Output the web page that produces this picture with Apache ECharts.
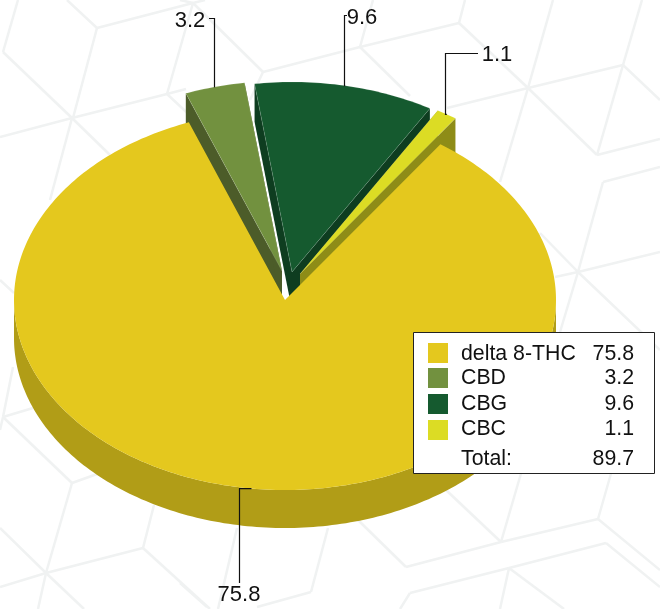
<!DOCTYPE html>
<html>
<head>
<meta charset="utf-8">
<style>
  html, body { margin: 0; padding: 0; background: #fff; }
  #main { width: 660px; height: 609px; }
</style>
</head>
<body>
<div id="main"></div>
<script src="https://cdn.jsdelivr.net/npm/echarts@6/dist/echarts.min.js"></script>
<script>
const categories = ['delta 8-THC', 'CBD', 'CBG', 'CBC'];
const values = [75.8, 3.2, 9.6, 1.1];
const valueLabels = ['75.8', '3.2', '9.6', '1.1'];
const totalText = 'Total:';
const totalLabel = '89.7';

// pie look
const topColors = ['#e4c81e', '#72913f', '#155a2f', '#dcdc24'];
const wallColors = ['#b19d17', '#4c5c29', '#0e3d20', '#8e8c17'];
const pieCenter = [285, 300];
const pieRx = 271;
const pieRy = 190;
const pieDepth = 38;
const firstAngle = 35; // degrees clockwise from 12 o'clock
const explode = [[0, 0], [-3, -29], [7, -28], [15, -26]];
// where the leader bends and where its label sits
const leaders = [
  { bend: [239.5, null], end: [239.5, 583], label: [239, 595] },
  { bend: [214.5, 18.5], end: [209, 18.5], label: [190, 21] },
  { bend: [344.5, 15.5], end: [347, 15.5], label: [362, 18] },
  { bend: [445.5, 53.5], end: [478, 53.5], label: [497, 55] }
];

const font = '"Liberation Sans", Arial, sans-serif';
const total = values.reduce((a, b) => a + b, 0);

const slices = [];
let acc = firstAngle;
values.forEach(function (v) {
  const span = v / total * 360;
  slices.push([acc, acc + span]);
  acc += span;
});

function rimPoint(cx, cy, deg, down) {
  const r = deg * Math.PI / 180;
  return [cx + pieRx * Math.sin(r), cy - pieRy * Math.cos(r) + (down || 0)];
}

function renderSlice(params, api) {
  const i = params.dataIndex;
  const a0 = slices[i][0];
  const a1 = slices[i][1];
  const cx = pieCenter[0] + explode[i][0];
  const cy = pieCenter[1] + explode[i][1];
  const z = i === 0 ? 10 : 2 + i;
  const children = [];

  // flat top face
  const face = [[cx, cy]];
  for (let a = a0; a < a1; a += 1) face.push(rimPoint(cx, cy, a));
  face.push(rimPoint(cx, cy, a1));

  // side walls of the pulled out slices
  if (i > 0) {
    [a0, a1].forEach(function (a) {
      const p = rimPoint(cx, cy, a);
      children.push({
        type: 'polygon',
        z2: z,
        shape: { points: [[cx, cy], p, [p[0], p[1] + pieDepth], [cx, cy + pieDepth]] },
        style: { fill: wallColors[i] }
      });
    });
  }

  // outer rim, only the part facing the viewer
  const from = Math.max(a0, 90);
  const to = Math.min(a1, 270);
  if (to > from) {
    const rim = [];
    for (let a = from; a <= to; a += 1) rim.push(rimPoint(cx, cy, a));
    for (let a = to; a >= from; a -= 1) rim.push(rimPoint(cx, cy, a, pieDepth));
    children.push({ type: 'polygon', z2: z, shape: { points: rim }, style: { fill: wallColors[i] } });
  }

  children.push({
    type: 'polygon',
    z2: z + 1,
    shape: { points: face },
    style: { fill: topColors[i], stroke: i === 0 ? null : 'rgba(255,255,255,0.25)', lineWidth: 0.5 }
  });

  // leader line and value
  const mid = rimPoint(cx, cy, (a0 + a1) / 2);
  const l = leaders[i];
  const bend = [l.bend[0], l.bend[1] === null ? mid[1] : l.bend[1]];
  children.push({
    type: 'polyline',
    z2: 20,
    shape: { points: [mid, i === 0 ? bend : [bend[0], mid[1]], bend, l.end] },
    style: { fill: null, stroke: '#111', lineWidth: 1.2 }
  });
  children.push({
    type: 'text',
    z2: 20,
    x: l.label[0],
    y: l.label[1],
    style: {
      text: String(api.value(1)),
      font: '22px ' + font,
      fill: '#111',
      textAlign: 'center',
      textVerticalAlign: 'middle'
    }
  });
  return { type: 'group', children: children };
}

// faint cube pattern behind the chart
const bgLines = [
  [67, 0, 97, 28], [97, 28, 73, 118], [97, 28, 193, 3], [18, 0, 3, 52], [3, 52, 72, 118],
  [0, 137, 72, 118], [72, 118, 167, 94], [167, 94, 193, 3], [72, 118, 110, 155], [72, 118, 50, 200],
  [167, 94, 186, 89], [167, 94, 197, 122], [193, 3, 263, 72], [193, 3, 180, 0], [193, 3, 205, 0],
  [263, 72, 360, 47], [263, 72, 250, 100], [360, 47, 373, 0], [360, 47, 410, 96], [360, 47, 459, 23],
  [459, 23, 465, 0], [459, 23, 528, 88], [528, 88, 553, 0], [528, 88, 447, 108], [528, 88, 597, 155],
  [528, 88, 500, 182], [597, 155, 623, 65], [623, 65, 642, 0], [623, 65, 528, 88], [623, 65, 660, 100],
  [597, 155, 660, 139], [603, 182, 660, 167], [603, 182, 578, 272], [578, 272, 660, 252],
  [578, 272, 555, 277], [578, 272, 660, 350], [578, 272, 560, 332], [540, 233, 578, 272],
  [0, 280, 14, 293], [13, 367, 3, 417], [33, 408, 3, 417], [3, 417, 72, 483], [3, 417, 0, 430],
  [72, 483, 100, 473], [72, 483, 46, 573], [0, 528, 46, 573], [46, 573, 143, 548], [143, 548, 154, 505],
  [143, 548, 210, 609], [46, 573, 0, 587], [46, 573, 84, 609], [46, 573, 38, 609],
  [328, 528, 311, 592], [311, 592, 257, 607], [237, 528, 218, 609], [180, 583, 207, 607],
  [358, 520, 406, 567], [406, 567, 501, 542], [501, 542, 446, 490], [501, 542, 522, 470],
  [501, 542, 598, 519], [598, 519, 612, 470], [598, 519, 660, 570], [410, 593, 509, 568],
  [410, 593, 400, 609], [509, 568, 606, 543], [606, 543, 660, 587], [509, 568, 500, 609],
  [509, 568, 564, 609]
];

const bgElements = bgLines.map(function (s) {
  return {
    type: 'line',
    z: 0,
    shape: { x1: s[0], y1: s[1], x2: s[2], y2: s[3] },
    style: { stroke: '#f0f2f2', lineWidth: 2.5 }
  };
});

// legend box
const swatchTops = [343, 368, 394, 420];
const rowCenters = [354, 378, 404, 429];
const legendElements = [{
  type: 'rect',
  z: 30,
  shape: { x: 413.5, y: 332.5, width: 241, height: 141 },
  style: { fill: '#fff', stroke: '#222', lineWidth: 1 }
}];
function legendText(x, y, text, align) {
  return {
    type: 'text',
    z: 31,
    x: x,
    y: y,
    style: { text: text, font: '21.3px ' + font, fill: '#111', textAlign: align, textVerticalAlign: 'middle' }
  };
}
categories.forEach(function (name, i) {
  legendElements.push({
    type: 'rect',
    z: 31,
    shape: { x: 428, y: swatchTops[i], width: 20, height: 20 },
    style: { fill: topColors[i] }
  });
  legendElements.push(legendText(461, rowCenters[i], name, 'left'));
  legendElements.push(legendText(634, rowCenters[i], valueLabels[i], 'right'));
});
legendElements.push(legendText(461, 459, totalText, 'left'));
legendElements.push(legendText(634, 459, totalLabel, 'right'));

const chart = echarts.init(document.getElementById('main'));
chart.setOption({
  animation: false,
  backgroundColor: '#fff',
  graphic: { elements: bgElements.concat(legendElements) },
  series: [{
    type: 'custom',
    coordinateSystem: 'none',
    silent: true,
    z: 5,
    renderItem: renderSlice,
    data: values.map(function (v, i) {
      return { value: [v, valueLabels[i]], name: categories[i] };
    }),
    dimensions: [{ name: 'value', type: 'number' }, { name: 'label', type: 'ordinal' }]
  }]
});
</script>
</body>
</html>
